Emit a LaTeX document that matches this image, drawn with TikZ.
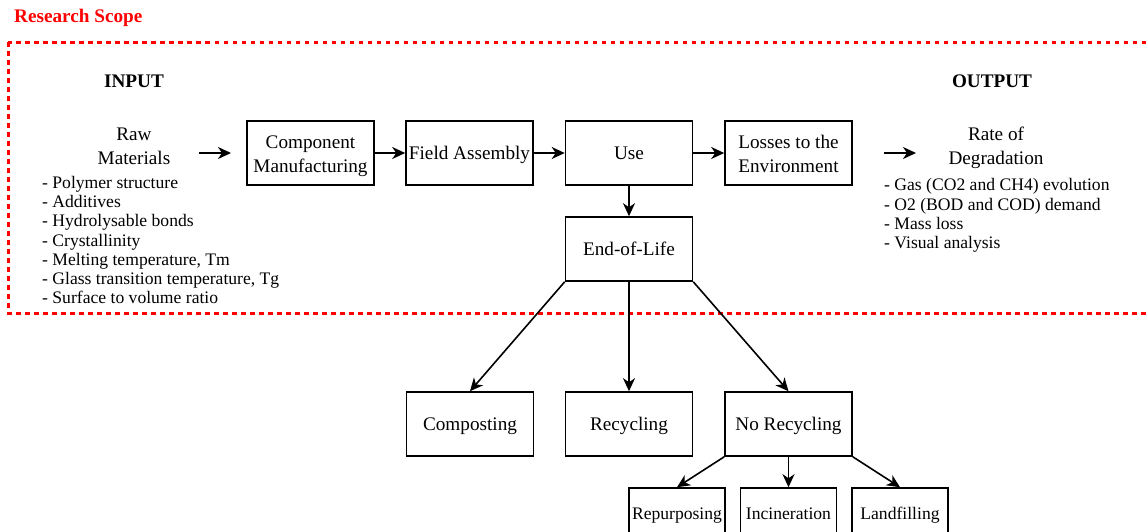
\documentclass[tikz,border=0pt]{standalone}
\usepackage{fontspec}
\setmainfont{Liberation Serif}
\usetikzlibrary{arrows.meta}
\definecolor{scopered}{RGB}{255,0,0}
\newcommand{\lowered}[1]{\raisebox{-3pt}[\height][\depth]{#1}}
\begin{document}
\begin{tikzpicture}[x=1pt,y=-1pt,
  box/.style={draw=black, line width=1.6pt, minimum width=127pt, minimum height=64pt,
    inner sep=0pt, align=center, font=\fontsize{19.2}{24}\selectfont},
  onebox/.style={box, text height=16pt, text depth=4pt},
  smallbox/.style={box, minimum width=96pt, minimum height=50pt, font=\fontsize{17.6}{20}\selectfont,
    text height=15.5pt, text depth=3pt},
  arr/.style={-{Stealth[length=13pt,width=12pt,inset=4pt]}, line width=1.6pt},
  plain/.style={inner sep=0pt, align=center, font=\fontsize{19.2}{24}\selectfont},
  bullets/.style={inner sep=0pt, align=left, font=\fontsize{17.6}{19.2}\selectfont},
  heading/.style={inner sep=0pt, font=\fontsize{19.2}{24}\selectfont\bfseries},
  scopeline/.style={draw=scopered, line width=3pt, dash pattern=on 4.5pt off 4.5pt}
]
\useasboundingbox (0,0) rectangle (1146,531);
\clip (0,0) rectangle (1146,531);

% research scope
\node[heading, text=scopered, anchor=west, font=\fontsize{19.2}{22}\selectfont\bfseries] (rs) at (14,18) {Research Scope};
\draw[scopeline] (8,42) rectangle (1170,313);

% headings
\node[heading] (input) at (134,81) {INPUT};
\node[heading] (output) at (992,81) {OUTPUT};

% raw materials
\node[plain] (raw) at (134,146) {Raw\\Materials};
\node[bullets, anchor=west] (rawlist) at (42,240) {- Polymer structure\\- Additives\\- Hydrolysable bonds\\- Crystallinity\\- Melting temperature, Tm\\- Glass transition temperature, Tg\\- Surface to volume ratio};

% rate of degradation
\node[plain] (rate) at (996,148) {Rate of\\Degradation};
\node[bullets, anchor=west] (ratelist) at (884,215.5) {- Gas (CO2 and CH4) evolution\\- O2 (BOD and COD) demand\\- Mass loss\\- Visual analysis};

% main chain
\node[box] (cm) at (310.5,153) {\lowered{\begin{tabular}{@{}c@{}}Component\\Manufacturing\end{tabular}}};
\node[onebox] (fa) at (469.5,153) {Field Assembly};
\node[onebox] (use) at (629,153) {Use};
\node[box] (loss) at (788.5,153) {\lowered{\begin{tabular}{@{}c@{}}Losses to the\\Environment\end{tabular}}};
\node[onebox] (eol) at (629,249) {End-of-Life};

% end-of-life options
\node[onebox] (comp) at (470,424) {Composting};
\node[onebox] (rec) at (629,424) {Recycling};
\node[onebox] (norec) at (788.5,424) {No Recycling};

% no recycling options
\node[smallbox] (rep) at (677,513) {Repurposing};
\node[smallbox] (inc) at (788.5,513) {Incineration};
\node[smallbox] (land) at (900,513) {Landfilling};

% free-end arrows
\coordinate (inA) at (199,153);
\coordinate (inB) at (231,153);
\coordinate (outA) at (884,153);
\coordinate (outB) at (916,153);
\draw[arr] (inA) -- (inB);
\draw[arr] (outA) -- (outB);

% connectors
\draw[arr] (cm.east) -- (fa.west);
\draw[arr] (fa.east) -- (use.west);
\draw[arr] (use.east) -- (loss.west);
\draw[arr] (use.south) -- (eol.north);
\draw[arr] (eol.south west) -- (comp.north);
\draw[arr] (eol.south) -- (rec.north);
\draw[arr] (eol.south east) -- (norec.north);
\draw[arr] (norec.south west) -- (rep.north);
\draw[arr] (norec.south) -- (inc.north);
\draw[arr] (norec.south east) -- (land.north);
\end{tikzpicture}
\end{document}
